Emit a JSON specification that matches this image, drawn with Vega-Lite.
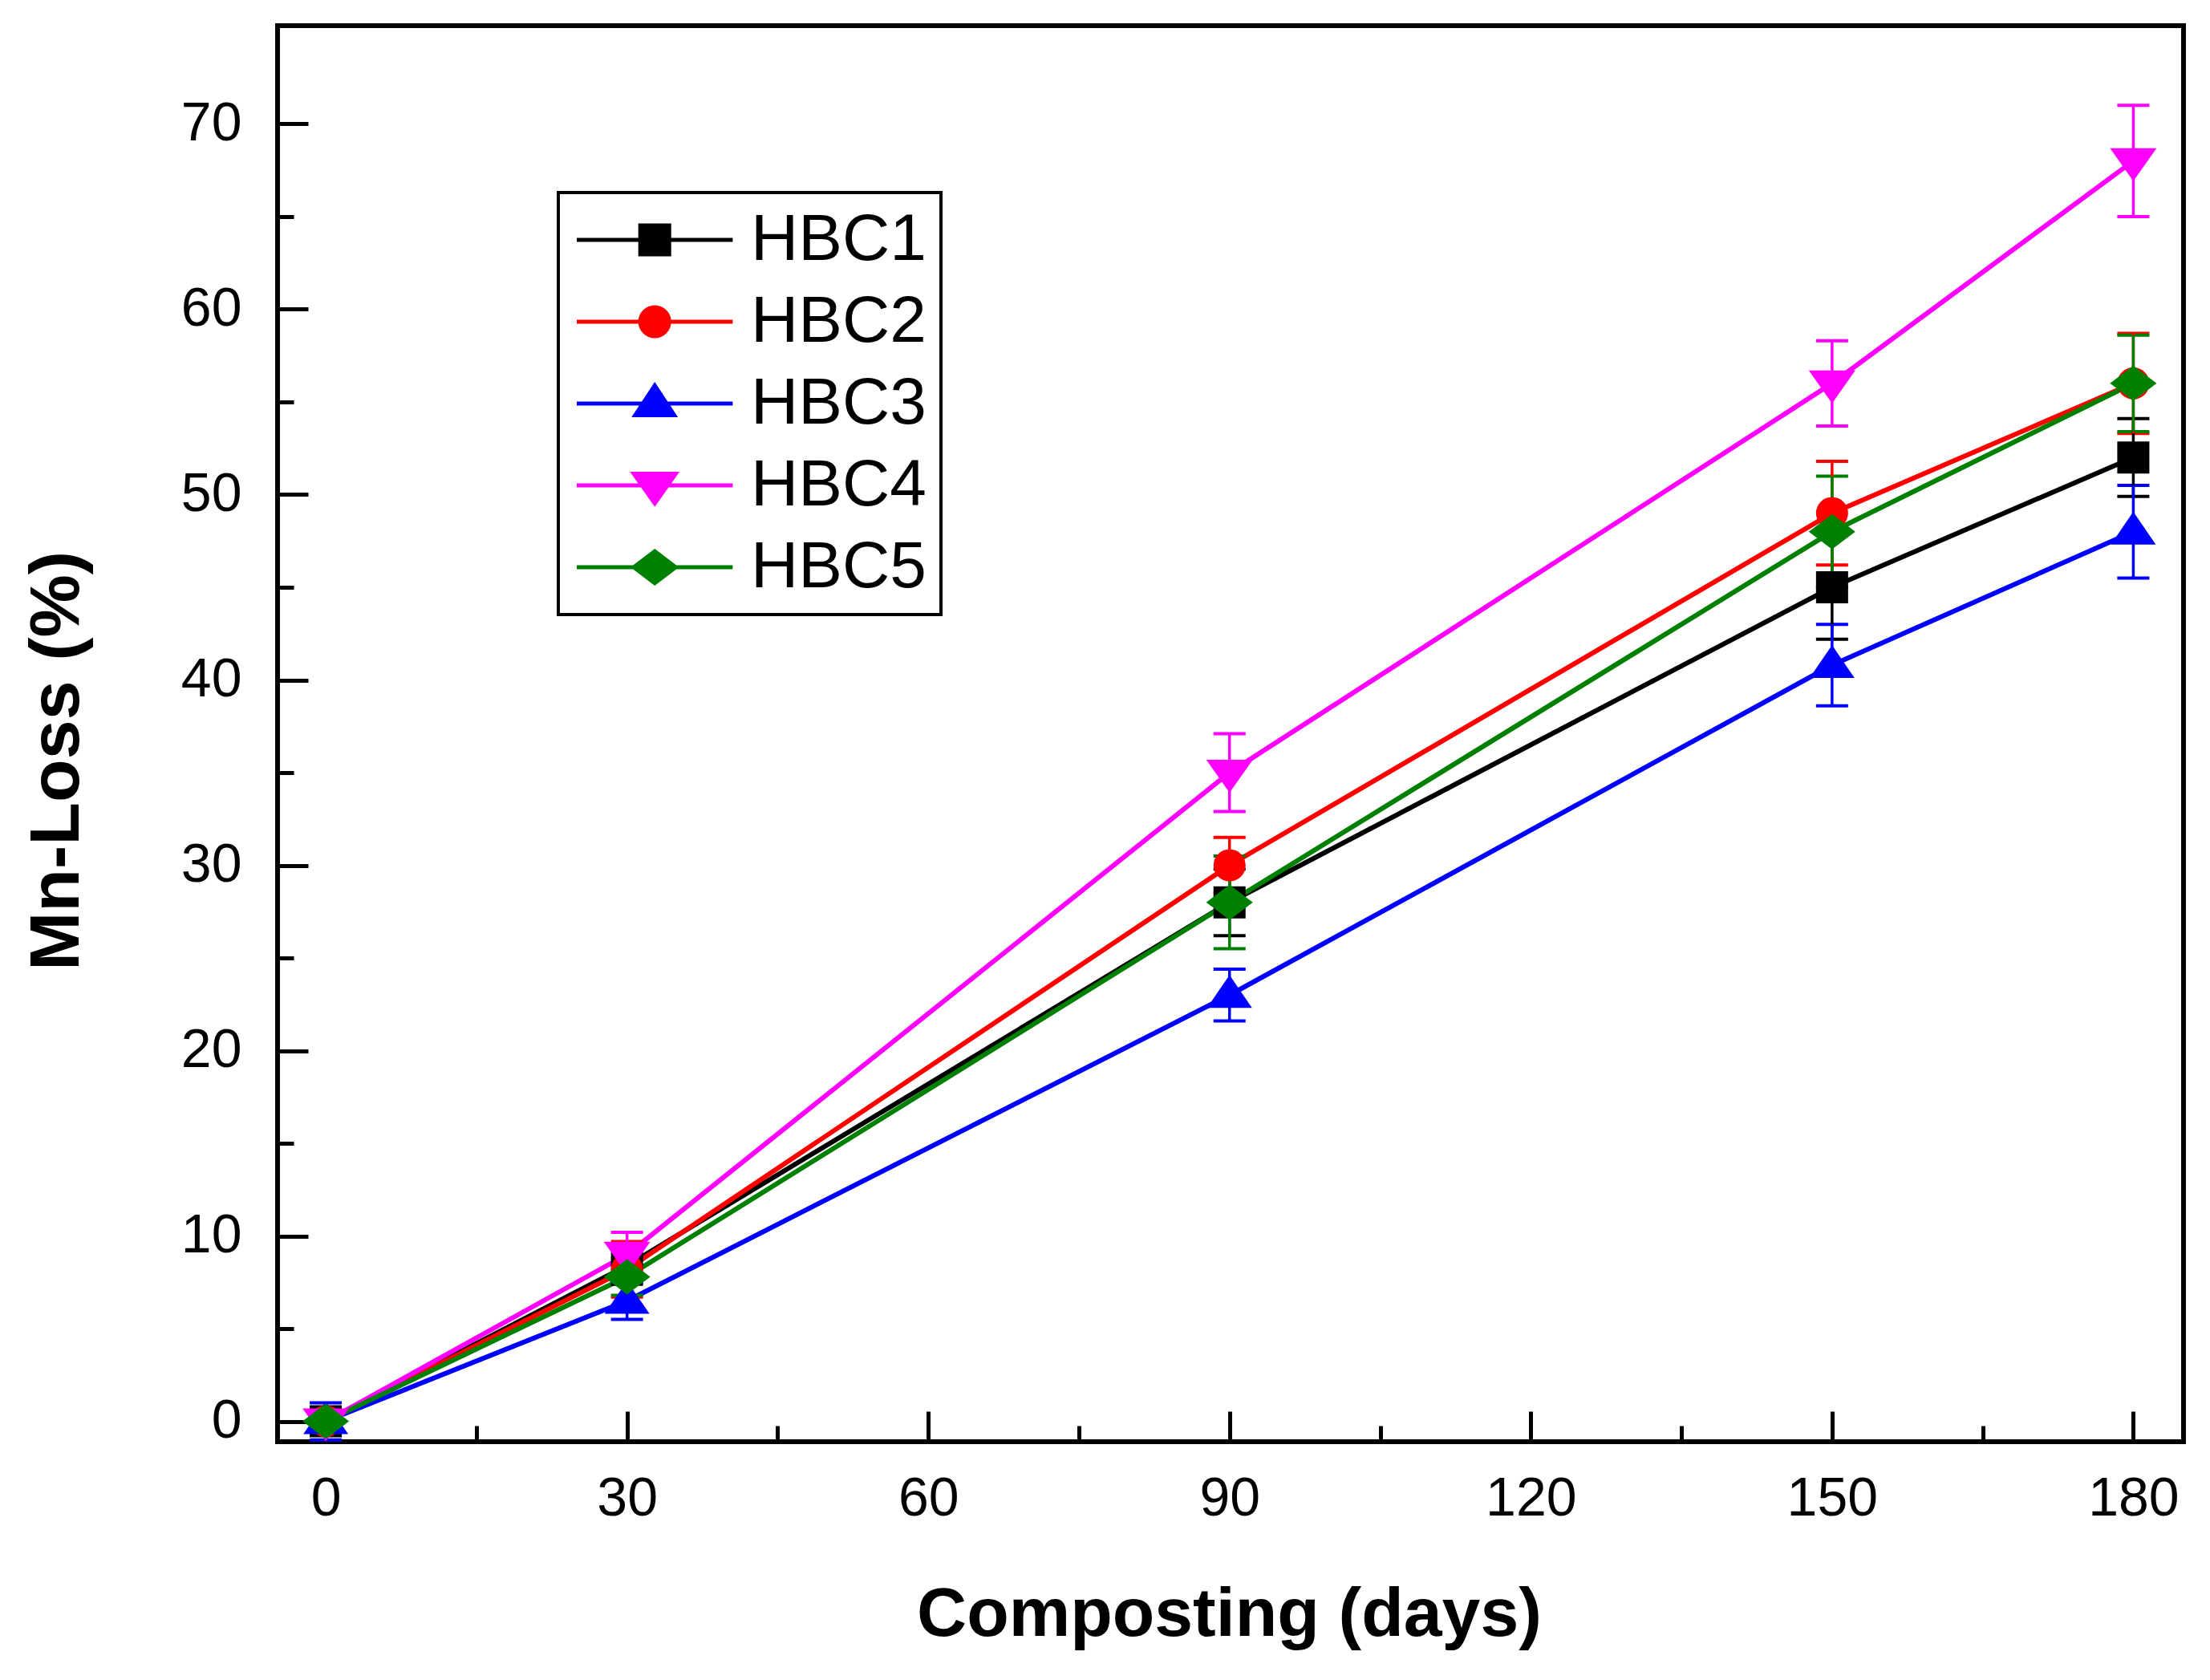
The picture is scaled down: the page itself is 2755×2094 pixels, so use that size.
{
  "$schema": "https://vega.github.io/schema/vega-lite/v6.json",
  "width": 2376,
  "height": 1765,
  "autosize": {"type": "none"},
  "padding": {"left": 346, "top": 32, "right": 33, "bottom": 297},
  "background": "white",
  "data": {
    "values": [
      {"series": "HBC1", "day": 0, "mean": 0, "sd": 0.6},
      {"series": "HBC1", "day": 30, "mean": 8.4, "sd": 1.0},
      {"series": "HBC1", "day": 90, "mean": 28, "sd": 1.8},
      {"series": "HBC1", "day": 150, "mean": 45, "sd": 2.8},
      {"series": "HBC1", "day": 180, "mean": 52, "sd": 2.1},
      {"series": "HBC2", "day": 0, "mean": 0, "sd": 0.5},
      {"series": "HBC2", "day": 30, "mean": 8.2, "sd": 1.5},
      {"series": "HBC2", "day": 90, "mean": 30, "sd": 1.5},
      {"series": "HBC2", "day": 150, "mean": 49, "sd": 2.8},
      {"series": "HBC2", "day": 180, "mean": 56, "sd": 2.7},
      {"series": "HBC3", "day": 0, "mean": 0, "sd": 1.0},
      {"series": "HBC3", "day": 30, "mean": 6.5, "sd": 1.0},
      {"series": "HBC3", "day": 90, "mean": 23, "sd": 1.4},
      {"series": "HBC3", "day": 150, "mean": 40.8, "sd": 2.2},
      {"series": "HBC3", "day": 180, "mean": 48, "sd": 2.5},
      {"series": "HBC4", "day": 0, "mean": 0, "sd": 0.5},
      {"series": "HBC4", "day": 30, "mean": 9.0, "sd": 1.2},
      {"series": "HBC4", "day": 90, "mean": 35, "sd": 2.1},
      {"series": "HBC4", "day": 150, "mean": 56, "sd": 2.3},
      {"series": "HBC4", "day": 180, "mean": 68, "sd": 3.0},
      {"series": "HBC5", "day": 0, "mean": 0, "sd": 0.6},
      {"series": "HBC5", "day": 30, "mean": 7.8, "sd": 1.0},
      {"series": "HBC5", "day": 90, "mean": 28, "sd": 2.5},
      {"series": "HBC5", "day": 150, "mean": 48, "sd": 3.0},
      {"series": "HBC5", "day": 180, "mean": 56, "sd": 2.6}
    ]
  },
  "resolve": {"axis": {"x": "independent", "y": "independent"}},
  "layer": [
    {
      "mark": {"type": "line", "interpolate": "linear", "strokeWidth": 6},
      "encoding": {
        "x": {
          "field": "day", "type": "quantitative",
          "scale": {"domain": [-4.8, 185], "nice": false, "zero": false},
          "axis": {
            "orient": "bottom", "values": [0, 30, 60, 90, 120, 150, 180],
            "ticks": false, "tickSize": 0, "domain": false, "grid": false,
            "labelFontSize": 68, "labelPadding": 91, "labelBaseline": "alphabetic",
            "labelFlush": false, "labelOverlap": false,
            "title": "Composting (days)", "titleFontSize": 86, "titleFontWeight": "bold",
            "titleX": 1186, "titleY": 241, "titleBaseline": "alphabetic", "titleAlign": "center"
          }
        },
        "y": {
          "field": "mean", "type": "quantitative",
          "scale": {"domain": [-1.1, 75.3], "nice": false, "zero": false},
          "axis": {
            "orient": "left", "values": [0, 10, 20, 30, 40, 50, 60, 70],
            "ticks": false, "tickSize": 0, "domain": false, "grid": false,
            "labelFontSize": 68, "labelPadding": 45, "labelAlign": "right", "labelBaseline": "middle",
            "labelFlush": false, "labelOverlap": false,
            "title": "Mn-Loss (%)", "titleFontSize": 88, "titleFontWeight": "bold",
            "titleAngle": -90, "titleX": -249, "titleY": 916, "titleBaseline": "alphabetic", "titleAlign": "center"
          }
        },
        "detail": {"field": "series", "type": "nominal"},
        "color": {
          "condition": [
            {"test": "datum.series === 'HBC1'", "value": "#000000"},
            {"test": "datum.series === 'HBC2'", "value": "#ff0000"},
            {"test": "datum.series === 'HBC3'", "value": "#0000ff"},
            {"test": "datum.series === 'HBC4'", "value": "#ff00ff"}
          ],
          "value": "#008000"
        }
      }
    },
    {
      "mark": {"type": "errorbar", "ticks": {"size": 40, "thickness": 4, "opacity": 1}, "rule": {"strokeWidth": 3.5, "opacity": 1}},
      "encoding": {
        "x": {
          "field": "day", "type": "quantitative",
          "axis": {
            "orient": "bottom", "values": [15, 45, 75, 105, 135, 165],
            "labels": false, "domain": false, "grid": false, "tickSize": -20, "tickWidth": 5, "tickColor": "black", "title": null
          }
        },
        "y": {
          "field": "mean", "type": "quantitative",
          "axis": {
            "orient": "left", "values": [5, 15, 25, 35, 45, 55, 65],
            "labels": false, "domain": false, "grid": false, "tickSize": -20, "tickWidth": 5, "tickColor": "black", "title": null
          }
        },
        "yError": {"field": "sd"},
        "detail": {"field": "series", "type": "nominal"},
        "color": {
          "condition": [
            {"test": "datum.series === 'HBC1'", "value": "#000000"},
            {"test": "datum.series === 'HBC2'", "value": "#ff0000"},
            {"test": "datum.series === 'HBC3'", "value": "#0000ff"},
            {"test": "datum.series === 'HBC4'", "value": "#ff00ff"}
          ],
          "value": "#008000"
        }
      }
    },
    {
      "mark": {"type": "point", "filled": true, "opacity": 1, "size": 1600},
      "encoding": {
        "x": {
          "field": "day", "type": "quantitative",
          "axis": {
            "orient": "bottom", "values": [0, 30, 60, 90, 120, 150, 180],
            "labels": false, "domain": false, "grid": false, "tickSize": -38, "tickWidth": 5, "tickColor": "black", "title": null
          }
        },
        "y": {
          "field": "mean", "type": "quantitative",
          "axis": {
            "orient": "left", "values": [0, 10, 20, 30, 40, 50, 60, 70],
            "labels": false, "domain": false, "grid": false, "tickSize": -38, "tickWidth": 5, "tickColor": "black", "title": null
          }
        },
        "shape": {
          "condition": [
            {"test": "datum.series === 'HBC1'", "value": "M-1,-1H1V1H-1Z"},
            {"test": "datum.series === 'HBC2'", "value": "circle"},
            {"test": "datum.series === 'HBC3'", "value": "M0,-1.25L1.4,0.8L-1.4,0.8Z"},
            {"test": "datum.series === 'HBC4'", "value": "M0,1.25L1.45,-0.8L-1.45,-0.8Z"}
          ],
          "value": "M-1.45,0L0,-1.1L1.45,0L0,1.1Z"
        },
        "color": {
          "field": "series", "type": "nominal",
          "scale": {"domain": ["HBC1", "HBC2", "HBC3", "HBC4", "HBC5"], "range": ["#000000", "#ff0000", "#0000ff", "#ff00ff", "#008000"]},
          "legend": {
            "orient": "none", "legendX": 350, "legendY": 208, "title": null,
            "strokeColor": "black", "fillColor": "white",
            "padding": 18, "rowPadding": 20,
            "symbolSize": 1296, "symbolStrokeWidth": 5, "symbolOpacity": 1,
            "labelFontSize": 82, "labelFont": "Liberation Sans", "labelColor": "black", "labelOffset": 140, "labelLimit": 0,
            "encode": {
              "legend": {
                "update": {"strokeWidth": {"value": 4}}
              },
              "symbols": {
                "update": {
                  "shape": {"signal": "datum.value === 'HBC1' ? 'M-2,0H8.8M2.4,-1H4.4V1H2.4Z' : datum.value === 'HBC2' ? 'M-2,0H8.8M2.4,0A1,1,0,1,1,4.4,0A1,1,0,1,1,2.4,0Z' : datum.value === 'HBC3' ? 'M-2,0H8.8M3.4,-1.25L4.75,0.8L2.05,0.8Z' : datum.value === 'HBC4' ? 'M-2,0H8.8M3.4,1.25L4.85,-0.8L1.95,-0.8Z' : 'M-2,0H8.8M1.95,0L3.4,-1.1L4.85,0L3.4,1.1Z'"},
                  "fill": {"signal": "scale('color', datum.value)"},
                  "stroke": {"signal": "scale('color', datum.value)"},
                  "strokeWidth": {"value": 5},
                  "opacity": {"value": 1}
                }
              }
            }
          }
        }
      }
    }
  ],
  "config": {
    "font": "Liberation Sans",
    "axis": {"labelFont": "Liberation Sans", "titleFont": "Liberation Sans", "labelColor": "black", "titleColor": "black", "tickColor": "black", "grid": false},
    "view": {"stroke": "black", "strokeWidth": 6}
  }
}
